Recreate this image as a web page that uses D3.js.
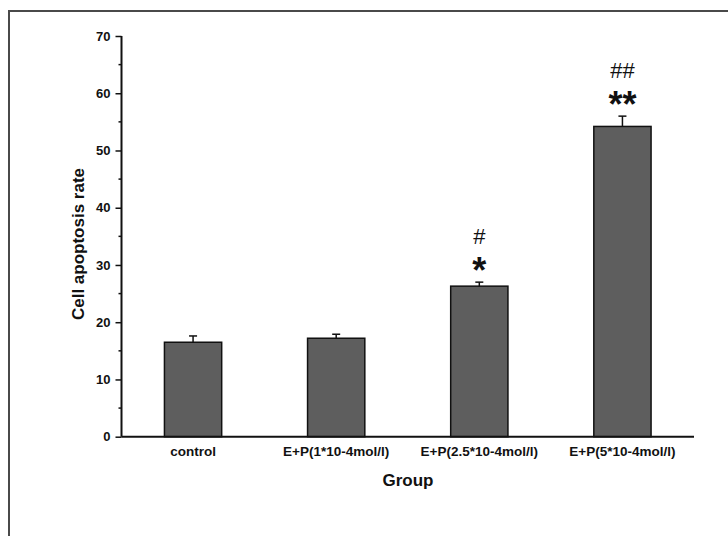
<!DOCTYPE html>
<html>
<head>
<meta charset="utf-8">
<script src="https://cdn.jsdelivr.net/npm/d3@7"></script>
<style>
  body { margin: 0; background: #fff; }
  svg { display: block; }
  text { font-family: Arial, "Liberation Sans", sans-serif; font-weight: bold; fill: #111; }
</style>
</head>
<body>
<svg id="chart" width="728" height="536"></svg>
<script>
// Apoptosis rate by treatment group
const groups = ["control", "E+P(1*10-4mol/l)", "E+P(2.5*10-4mol/l)", "E+P(5*10-4mol/l)"];
const rates = [16.5, 17.2, 26.3, 54.2];
const errors = [1.1, 0.7, 0.7, 1.8];
const starMarks = ["", "", "*", "**"];
const hashMarks = ["", "", "#", "##"];
const yTicks = [0, 10, 20, 30, 40, 50, 60, 70];
const yMinorTicks = [5, 15, 25, 35, 45, 55, 65];

const svg = d3.select("#chart");
const fontStack = "Arial, 'Liberation Sans', sans-serif";

// outer frame
svg.append("rect")
  .attr("x", 9).attr("y", 11).attr("width", 740).attr("height", 560)
  .attr("fill", "none").attr("stroke", "#4a4a4a").attr("stroke-width", 2);

const plotLeft = 121.5, plotRight = 694, plotTop = 36, plotBottom = 436.7;

const x = d3.scaleBand().domain(groups).range([plotLeft, plotRight]).paddingInner(0.6).paddingOuter(0.3);
const y = d3.scaleLinear().domain([0, 70]).range([plotBottom, plotTop]);

// bars
svg.append("g").selectAll("rect").data(groups).join("rect")
  .attr("x", d => x(d))
  .attr("y", (d, i) => y(rates[i]))
  .attr("width", x.bandwidth())
  .attr("height", (d, i) => y(0) - y(rates[i]))
  .attr("fill", "#5e5e5e")
  .attr("stroke", "#111")
  .attr("stroke-width", 1.5);

// error bars (upper half)
const eb = svg.append("g").attr("stroke", "#111").attr("stroke-width", 1.5);
groups.forEach((g, i) => {
  const cx = x(g) + x.bandwidth() / 2;
  eb.append("line").attr("x1", cx).attr("x2", cx)
    .attr("y1", y(rates[i])).attr("y2", y(rates[i] + errors[i]));
  eb.append("line").attr("x1", cx - 4).attr("x2", cx + 4)
    .attr("y1", y(rates[i] + errors[i])).attr("y2", y(rates[i] + errors[i]));
});

// significance marks
groups.forEach((g, i) => {
  const cx = x(g) + x.bandwidth() / 2;
  const yTop = y(rates[i] + errors[i]);
  if (starMarks[i]) {
    svg.append("text").attr("x", cx).attr("y", yTop + 1)
      .attr("text-anchor", "middle").style("font-size", "36px").style("font-weight", "bold")
      .text(starMarks[i]);
  }
  if (hashMarks[i]) {
    svg.append("text").attr("x", cx).attr("y", yTop - 38)
      .attr("text-anchor", "middle").style("font-size", "22px").style("font-weight", "normal")
      .text(hashMarks[i]);
  }
});

// y axis
const yAxis = d3.axisLeft(y).tickValues(yTicks).tickSize(6).tickPadding(5).tickFormat(d3.format("d"));
const yg = svg.append("g").attr("transform", `translate(${plotLeft},0)`).call(yAxis);
yg.select(".domain").attr("stroke", "#111").attr("stroke-width", 2).attr("d", `M0,${plotBottom}V${plotTop}`);
yg.selectAll(".tick line").attr("stroke", "#111").attr("stroke-width", 1.5);
yg.selectAll(".tick text").style("font-size", "13px").style("font-family", fontStack).style("font-weight", "bold").attr("fill", "#111");
yg.append("g").selectAll("line").data(yMinorTicks).join("line")
  .attr("x1", -3).attr("x2", 0).attr("y1", d => y(d)).attr("y2", d => y(d))
  .attr("stroke", "#111").attr("stroke-width", 1.5);

// x axis
const xAxis = d3.axisBottom(x).tickSize(0).tickPadding(10);
const xg = svg.append("g").attr("transform", `translate(0,${plotBottom})`).call(xAxis);
xg.select(".domain").attr("stroke", "#111").attr("stroke-width", 2).attr("d", `M${plotLeft},0H${plotRight}`);
xg.selectAll(".tick text").style("font-size", "13.5px").style("font-family", fontStack).style("font-weight", "bold").attr("fill", "#111");

// axis titles
svg.append("text").attr("x", 408).attr("y", 486)
  .attr("text-anchor", "middle").style("font-size", "17px").text("Group");
svg.append("text").attr("transform", `translate(84,244) rotate(-90)`)
  .attr("text-anchor", "middle").style("font-size", "17px").text("Cell apoptosis rate");
</script>
</body>
</html>
